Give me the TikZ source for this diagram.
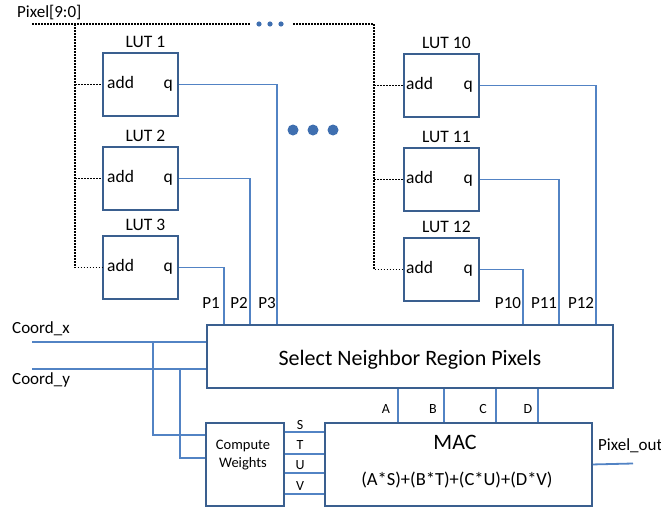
\documentclass[tikz,border=0pt]{standalone}
\usepackage{fontspec}
\setmainfont{Carlito}
\definecolor{boxc}{HTML}{3A5F8F}
\definecolor{wirec}{HTML}{5283C4}
\definecolor{dotc}{HTML}{3F6FB0}
\tikzset{
 box/.style={draw=boxc, line width=1.9pt, anchor=north west, inner sep=0pt},
 lutbox/.style={box, minimum width=75pt, minimum height=63pt},
 wire/.style={draw=wirec, line width=1.8pt},
 bus/.style={draw=black, line width=1.6pt, dash pattern=on 1.5pt off 1.5pt},
 lbl/.style={font=\fontsize{17}{19}\selectfont, inner sep=0pt},
 lutl/.style={font=\fontsize{17.5}{20}\selectfont, inner sep=0pt},
 sml/.style={font=\fontsize{14}{16}\selectfont, inner sep=0pt},
}
\begin{document}
\begin{tikzpicture}[x=1pt,y=-1pt]
\useasboundingbox (0,0) rectangle (661,506);

% LUT boxes
\node[lutbox] (L1) at (102,52) {};
\node[lutbox] (L2) at (102,146) {};
\node[lutbox] (L3) at (102,235) {};
\node[lutbox] (L10) at (403,53) {};
\node[lutbox] (L11) at (403,147) {};
\node[lutbox] (L12) at (403,237) {};

\foreach \n/\t in {L1/LUT 1,L2/LUT 2,L3/LUT 3,L10/LUT 10,L11/LUT 11,L12/LUT 12}{
  \node[lutl, anchor=base] (\n t) at ([xshift=5pt,yshift=5pt]\n.north) {\t};
}
\foreach \n in {L1,L2,L3}{
  \node[lutl, anchor=base west] (\n a) at ([xshift=5pt,yshift=-4pt]\n.west) {add};
  \node[lutl, anchor=base east] (\n q) at ([xshift=-6pt,yshift=-4pt]\n.east) {q};
}
\foreach \n in {L10,L11,L12}{
  \node[lutl, anchor=base west] (\n a) at ([xshift=3pt,yshift=-4pt]\n.west) {add};
  \node[lutl, anchor=base east] (\n q) at ([xshift=-7pt,yshift=-4pt]\n.east) {q};
}

% Pixel bus
\node[lbl, anchor=base west] (pix) at (17,17) {Pixel[9:0]};
\coordinate (b0) at (32,24);
\coordinate (b1) at (250,24);
\coordinate (b2) at (293,24);
\coordinate (bl) at (75,24);
\coordinate (br) at (374,24);
\draw[bus] (b0) -- (b1);
\draw[bus] (b2) -- (br);
\fill[dotc] (259,24) circle (2.6pt) (270,24) circle (2.6pt) (281,24) circle (2.6pt);
\draw[bus] (bl) |- (L3.west);
\draw[bus] (bl |- L1.west) -- (L1.west);
\draw[bus] (bl |- L2.west) -- (L2.west);
\draw[bus] (br) |- (L12.west);
\draw[bus] (br |- L10.west) -- (L10.west);
\draw[bus] (br |- L11.west) -- (L11.west);

% big dots
\fill[dotc] (293,130) circle (5.5pt) (313,130) circle (5.5pt) (333,130) circle (5.5pt);

% Select box
\node[box, minimum width=406pt, minimum height=63pt] (sel) at (206,324) {};
\node[font=\fontsize{22}{26}\selectfont, inner sep=0pt, anchor=base] (selt) at ([yshift=-9.5pt]sel.center) {Select Neighbor Region Pixels};

% LUT outputs
\draw[wire] (L1.east) -| ([xshift=71pt]sel.north west);
\draw[wire] (L2.east) -| ([xshift=44pt]sel.north west);
\draw[wire] (L3.east) -| ([xshift=18pt]sel.north west);
\draw[wire] (L10.east) -| ([xshift=390pt]sel.north west);
\draw[wire] (L11.east) -| ([xshift=353pt]sel.north west);
\draw[wire] (L12.east) -| ([xshift=317pt]sel.north west);
\node[lbl, anchor=base] (p1) at (211,308) {P1};
\node[lbl, anchor=base] (p2) at (239,308) {P2};
\node[lbl, anchor=base] (p3) at (267,308) {P3};
\node[lbl, anchor=base] (p10) at (508,308) {P10};
\node[lbl, anchor=base] (p11) at (544,308) {P11};
\node[lbl, anchor=base] (p12) at (581,308) {P12};

% Compute weights & MAC
\node[box, minimum width=78pt, minimum height=83pt] (cw) at (205,422) {};
\node[align=center, inner sep=0pt, anchor=base, font=\fontsize{14.5}{18}\selectfont] (cwt) at (243,467) {Compute\\Weights};
\node[box, minimum width=267pt, minimum height=83pt] (mac) at (324,422) {};
\node[font=\fontsize{22}{26}\selectfont, inner sep=0pt, anchor=base] (mact) at (455,449) {MAC};
\node[font=\fontsize{18.5}{20}\selectfont, inner sep=0pt, anchor=base] (form) at (457,485) {(A*S)+(B*T)+(C*U)+(D*V)};

% Coord inputs
\node[lbl, anchor=base west] (cxl) at (12,333) {Coord\_x};
\node[lbl, anchor=base west] (cyl) at (12,384) {Coord\_y};
\coordinate (cx) at (32,342);
\coordinate (cy) at (32,369);
\coordinate (jx) at (153,342);
\coordinate (jy) at (180,369);
\draw[wire] (cx) -- (sel.west |- cx);
\draw[wire] (cy) -- (sel.west |- cy);
\draw[wire] (jx) |- ([yshift=-13pt]cw.north west);
\draw[wire] (jy) |- ([yshift=-36pt]cw.north west);

% S T U V
\foreach \o/\l/\b in {10/S/429,32/T/449,51/U/469,72/V/490}{
  \draw[wire] ([yshift=-\o pt]cw.north east) -- ([yshift=-\o pt]cw.north east -| mac.west);
  \node[sml, anchor=base] (w\l) at (300,\b) {\l};
}
% A B C D
\foreach \o/\l/\x in {192/A/386,238/B/433,290/C/483,332/D/528}{
  \draw[wire] ([xshift=\o pt]sel.south west) -- ([xshift=\o pt]sel.south west |- mac.north);
  \node[sml, anchor=base] (i\l) at (\x,413) {\l};
}

% output
\node[lbl, anchor=base west] (pol) at (598,450) {Pixel\_out};
\coordinate (pout) at (633,463.5);
\draw[wire] (mac.east) -- (pout);
\end{tikzpicture}
\end{document}
